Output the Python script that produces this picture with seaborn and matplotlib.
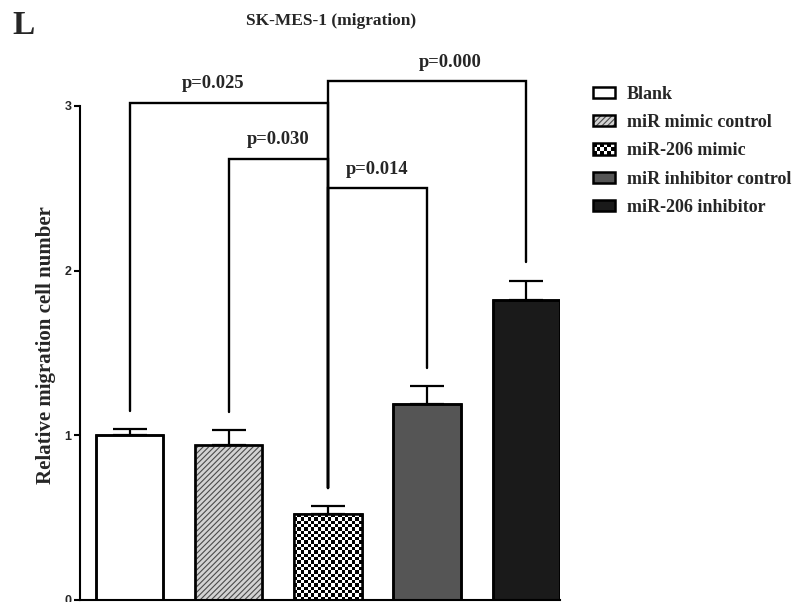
import numpy as np
import pandas as pd
import matplotlib
matplotlib.use("Agg")
import matplotlib.pyplot as plt
import seaborn as sns
from matplotlib.patches import Rectangle
from matplotlib.legend_handler import HandlerBase

# ---- data -------------------------------------------------------------
groups = ["Blank", "miR mimic control", "miR-206 mimic",
          "miR inhibitor control", "miR-206 inhibitor"]
means = [1.00, 0.94, 0.52, 1.19, 1.82]
sems = [0.04, 0.09, 0.05, 0.11, 0.12]
comparisons = [(0, 2, "p=0.025"), (2, 4, "p=0.000"),
               (1, 2, "p=0.030"), (2, 3, "p=0.014")]
y_ticks = [0, 1, 2, 3]

# ---- styling ------------------------------------------------------------
bracket_levels = [3.02, 3.15, 2.68, 2.50]
label_x = [0.84, 3.23, 1.5, 2.5]
faces = ["white", "#d2d2d2", "white", "#555555", "#1a1a1a"]
hatches = [None, "//////", None, None, None]
checker = [False, False, True, False, False]

SERIF = ["Liberation Serif", "DejaVu Serif"]
SANS = ["Liberation Sans", "DejaVu Sans"]

sns.set_style("ticks")
plt.rcParams["font.family"] = SERIF
plt.rcParams["font.weight"] = "bold"
plt.rcParams["hatch.linewidth"] = 0.8

W, H = 795, 602
fig = plt.figure(figsize=(W / 100, H / 100), dpi=100)
ax = fig.add_axes([80 / W, 2 / H, 480 / W, 494 / H])

df = pd.DataFrame({"group": groups, "mean": means})
sns.barplot(data=df, x="group", y="mean", hue="group",
            palette=dict(zip(groups, faces)), legend=False, dodge=False,
            width=0.68, edgecolor="black", linewidth=1.8, errorbar=None,
            saturation=1, ax=ax)

XLIM = (-0.5, 4.34)
YLIM = (0, 3)
ax.set_xlim(*XLIM)
ax.set_ylim(*YLIM)

bars = sorted(ax.patches, key=lambda p: p.get_x())

# per-bar fill treatments
for bar, hatch, chk in zip(bars, hatches, checker):
    x0, y0 = bar.get_x(), bar.get_y()
    w, h = bar.get_width(), bar.get_height()
    if hatch:
        bar.set_edgecolor("#4a4a4a")
        bar.set_hatch(hatch)
    if chk:
        p0 = ax.transData.transform((x0, y0))
        p1 = ax.transData.transform((x0 + w, y0 + h))
        cell = 3.35
        nx = max(1, int(round((p1[0] - p0[0]) / cell)))
        ny = max(1, int(round((p1[1] - p0[1]) / cell)))
        board = np.indices((ny, nx)).sum(axis=0) % 2
        im = ax.imshow(board, cmap="gray", vmin=0, vmax=1,
                       extent=(x0, x0 + w, y0, y0 + h), origin="lower",
                       interpolation="nearest", aspect="auto",
                       zorder=bar.get_zorder() + 0.1)
        im.set_clip_path(bar)
    ax.add_patch(Rectangle((x0, y0), w, h, fill=False, edgecolor="black",
                           linewidth=1.8, zorder=bar.get_zorder() + 0.2))

ax.set_xlim(*XLIM)
ax.set_ylim(*YLIM)

# upper error bars
xs = np.arange(len(groups))
ax.errorbar(xs, means, yerr=[np.zeros(len(sems)), sems], fmt="none",
            ecolor="black", elinewidth=1.6, capsize=12.5, capthick=1.6,
            zorder=4)

# significance brackets
gap = 0.11
for (i, j, label), level, lx in zip(comparisons, bracket_levels, label_x):
    bi = means[i] + sems[i] + gap
    bj = means[j] + sems[j] + gap
    ax.plot([i, i, j, j], [bi, level, level, bj], color="black", lw=1.7,
            clip_on=False, solid_joinstyle="miter", zorder=5)
    ax.text(lx, level + 0.065, label, ha="center", va="bottom",
            fontsize=13.3, fontweight="bold", clip_on=False)

# axes cosmetics
ax.set_xticks([])
ax.set_xlabel("")
ax.set_yticks(y_ticks)
ax.set_yticklabels([str(t) for t in y_ticks], family=SANS,
                   fontweight="bold", fontsize=9)
ax.tick_params(axis="y", length=4, width=1.5, pad=2, color="black")
for side in ("top", "right"):
    ax.spines[side].set_visible(False)
for side in ("left", "bottom"):
    ax.spines[side].set_linewidth(1.5)
    ax.spines[side].set_color("black")
ax.spines["left"].set_bounds(0, 3)
ax.set_ylabel("Relative migration cell number", fontsize=15,
              fontweight="bold")
ax.yaxis.set_label_coords(-0.05, 0.516)


# legend swatches
class SwatchHandler(HandlerBase):
    def __init__(self, face, hatch=None, chk=False):
        super().__init__()
        self.face = face
        self.hatch = hatch
        self.chk = chk

    def create_artists(self, legend, orig_handle, xdescent, ydescent,
                       width, height, fontsize, trans):
        x0, y0 = -xdescent, -ydescent
        arts = [Rectangle((x0, y0), width, height, facecolor=self.face,
                          edgecolor="#4a4a4a" if self.hatch else "none",
                          hatch=self.hatch, lw=0, transform=trans)]
        if self.chk:
            nx, ny = 6, 3
            cw, ch = width / nx, height / ny
            for r in range(ny):
                for c in range(nx):
                    if (r + c) % 2 == 0:
                        arts.append(Rectangle((x0 + c * cw, y0 + r * ch),
                                              cw, ch, facecolor="black",
                                              lw=0, transform=trans))
        arts.append(Rectangle((x0, y0), width, height, fill=False,
                              edgecolor="black", lw=1.8, transform=trans))
        return arts


handles = [Rectangle((0, 0), 1, 1) for _ in groups]
hmap = {h: SwatchHandler(f, ht, c)
        for h, f, ht, c in zip(handles, faces, hatches, checker)}
fig.legend(handles, groups, handler_map=hmap, loc="upper left",
           bbox_to_anchor=(593 / W, 1 - 86 / H),
           bbox_transform=fig.transFigure, frameon=False,
           prop={"family": SERIF, "weight": "bold", "size": 13},
           handlelength=1.2, handleheight=0.58, handletextpad=0.68,
           labelspacing=0.62, borderpad=0, borderaxespad=0)

fig.text(246 / W, 1 - 21 / H, "SK-MES-1 (migration)", ha="left",
         va="center", fontsize=12.5, fontweight="bold")
fig.text(12 / W, 1 - 25 / H, "L", ha="left", va="center", fontsize=24,
         fontweight="bold")

fig.savefig("out.png", dpi=100)
